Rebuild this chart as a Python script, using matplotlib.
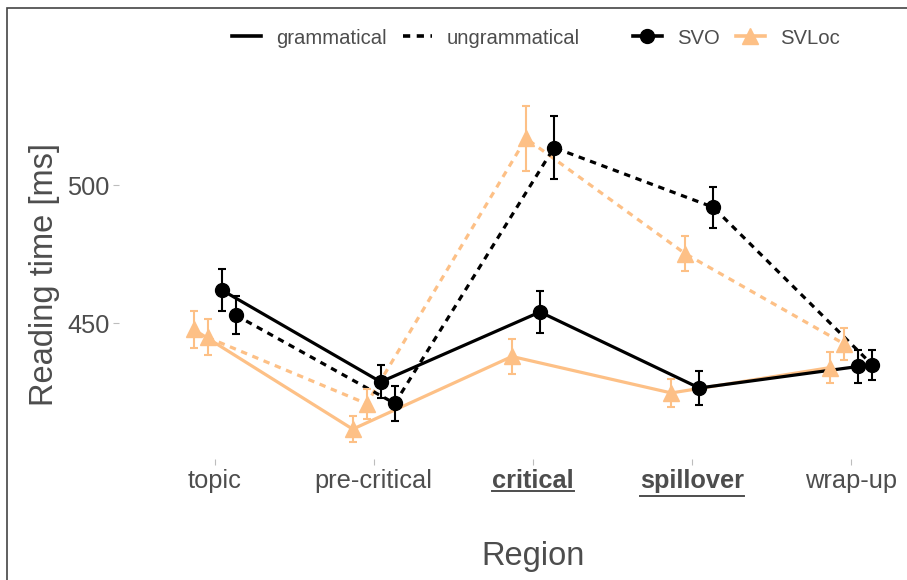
import matplotlib
matplotlib.use("Agg")
import matplotlib.pyplot as plt
from matplotlib.lines import Line2D
from matplotlib.patches import Rectangle

plt.rcParams["font.family"] = ["Liberation Sans", "DejaVu Sans"]

regions = ["topic", "pre-critical", "critical", "spillover", "wrap-up"]
bold_regions = ["critical", "spillover"]

# mean reading times (ms) and standard errors per condition
svo_gram = [462.1, 428.8, 454.1, 426.6, 434.4]
svo_gram_se = [7.7, 6.0, 7.5, 6.3, 6.0]
svo_ungram = [453.0, 421.0, 513.6, 492.0, 434.9]
svo_ungram_se = [6.9, 6.2, 11.5, 7.4, 5.3]
svloc_gram = [447.8, 411.7, 438.0, 424.8, 434.0]
svloc_gram_se = [6.7, 4.7, 6.3, 5.1, 5.6]
svloc_ungram = [444.9, 420.9, 516.9, 475.2, 442.5]
svloc_ungram_se = [6.5, 5.4, 11.8, 6.3, 5.9]

BLACK = "#000000"
PEACH = "#FDC086"
TXT = "#4D4D4D"
DASH = (0, (2.0, 1.8))

W, H = 907, 580
fig = plt.figure(figsize=(W / 100, H / 100), dpi=100)
ax = fig.add_axes([119 / W, (H - 459) / H, 828 / W, 370 / H])

# dodge: SVLoc-gram, SVLoc-ungram, SVO-gram, SVO-ungram
groups = [
    (svloc_gram, svloc_gram_se, PEACH, "^", "-", -0.132, 11),
    (svloc_ungram, svloc_ungram_se, PEACH, "^", DASH, -0.044, 11),
    (svo_gram, svo_gram_se, BLACK, "o", "-", 0.044, 10),
    (svo_ungram, svo_ungram_se, BLACK, "o", DASH, 0.132, 10),
]
for vals, se, col, mk, ls, off, ms in groups:
    xs = [i + 1 + off for i in range(len(regions))]
    ax.plot(xs, vals, color=col, ls=ls, lw=2.3, zorder=2)
    ax.errorbar(xs, vals, yerr=se, fmt="none", ecolor=col, elinewidth=1.5,
                capsize=2.7, capthick=1.5, zorder=3)
    ax.plot(xs, vals, ls="none", marker=mk, ms=ms, color=col, mec=col, zorder=4)

ax.set_xlim(0.4, 5.6)
ax.set_ylim(400.9, 534.8)
ax.set_xticks(range(1, len(regions) + 1))
ax.set_xticklabels(regions)
ax.set_yticks([450, 500])
for lab in ax.get_xticklabels():
    if lab.get_text() in bold_regions:
        lab.set_fontweight("bold")
ax.tick_params(axis="both", length=4, width=0.8, color="#BDBDBD",
               labelsize=18.3, labelcolor=TXT, pad=3)
for s in ax.spines.values():
    s.set_visible(False)

ax.set_xlabel("Region", fontsize=23.5, color=TXT)
ax.set_ylabel("Reading time [ms]", fontsize=23.5, color=TXT)
ax.xaxis.set_label_coords(0.5, -0.222)
ax.yaxis.set_label_coords(-0.0713, 0.5)

# legends along the top
leg_kw = dict(frameon=False, fontsize=14.6, labelcolor=TXT, handlelength=1.43,
              handletextpad=0.74, columnspacing=0.79, borderpad=0,
              borderaxespad=0, loc="center left")
h1 = [Line2D([], [], color=BLACK, lw=2.6, ls="-"),
      Line2D([], [], color=BLACK, lw=2.6, ls=DASH)]
leg1 = fig.legend(h1, ["grammatical", "ungrammatical"], ncol=2,
                  bbox_to_anchor=(232 / W, 1 - 38 / H), **leg_kw)
h2 = [Line2D([], [], color=BLACK, lw=2.6, marker="o", ms=10),
      Line2D([], [], color=PEACH, lw=2.6, marker="^", ms=11)]
leg2 = fig.legend(h2, ["SVO", "SVLoc"], ncol=2,
                  bbox_to_anchor=(633 / W, 1 - 38 / H), **leg_kw)

# underline the bold region labels
fig.canvas.draw()
r = fig.canvas.get_renderer()
for lab in ax.get_xticklabels():
    if lab.get_text() not in bold_regions:
        continue
    bb = lab.get_window_extent(r)
    prop = lab.get_fontproperties()
    _, _, lp_d = r.get_text_width_height_descent("lp", prop, ismath=False)
    _, _, d = r.get_text_width_height_descent(lab.get_text(), prop, ismath=False)
    base = bb.y0 + lp_d
    yl = base - d - 3
    fig.add_artist(Line2D([bb.x0 / W, bb.x1 / W], [yl / H, yl / H],
                          color=TXT, lw=1.4, transform=fig.transFigure))

# outer frame
fig.add_artist(Rectangle((7 / W, -0.1), 1.2, 1 - 8 / H + 0.1, fill=False,
                         ec="#444444", lw=1.2, transform=fig.transFigure))

fig.savefig("out.png", dpi=100)
